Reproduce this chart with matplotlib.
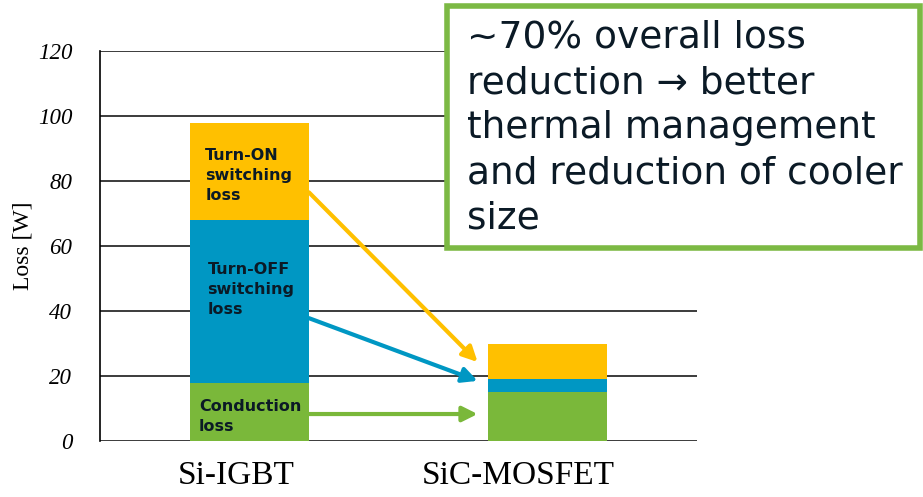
import matplotlib.pyplot as plt
from matplotlib.patches import Rectangle
from matplotlib.transforms import ScaledTranslation

# data
devices = ['Si-IGBT', 'SiC-MOSFET']
conduction = [18, 15]
turn_off = [50, 4]
turn_on = [30, 11]
yticks = [0, 20, 40, 60, 80, 100, 120]

yellow = '#FFC000'
blue = '#0097C3'
green = '#7AB83A'
ink = '#0B1A26'

fig = plt.figure(figsize=(9.23, 4.97), dpi=100)
ax = fig.add_axes([100/923, 56/497, 597/923, 390/497])

xs = [0, 1]
w = 0.4
bottom_off = conduction
bottom_on = [c + o for c, o in zip(conduction, turn_off)]
ax.bar(xs, conduction, w, color=green, zorder=3)
ax.bar(xs, turn_off, w, bottom=bottom_off, color=blue, zorder=3)
ax.bar(xs, turn_on, w, bottom=bottom_on, color=yellow, zorder=3)

ax.set_xlim(-0.5, 1.5)
ax.set_ylim(0, 120)
ax.set_yticks(yticks)
ax.set_yticklabels([str(t) for t in yticks], family='Liberation Serif',
                   style='italic', fontsize=16.5)
ax.set_xticks(xs)
ax.set_xticklabels(devices, family='Liberation Serif', fontsize=24)
ax.tick_params(axis='y', length=0, pad=20)
ax.tick_params(axis='x', length=0, pad=14)
# category labels sit a little left of the bar centres in the original
for lab, dx in zip(ax.get_xticklabels(), [-13, -29]):
    lab.set_transform(lab.get_transform() + ScaledTranslation(dx/100, 0, fig.dpi_scale_trans))
ax.set_ylabel('Loss [W]', family='Liberation Serif', fontsize=17, labelpad=3)
ax.grid(axis='y', color='#1a1a1a', linewidth=1.2, zorder=1)
for s in ['top', 'right', 'bottom']:
    ax.spines[s].set_visible(False)
ax.spines['left'].set_linewidth(1.2)

# labels inside the Si-IGBT bar
lbl = dict(fontsize=11.5, fontweight='bold', color=ink, ha='left', va='top',
           linespacing=1.42, zorder=4)
ax.text(-0.147, 90.2, 'Turn-ON\nswitching\nloss', **lbl)
ax.text(-0.14, 55.2, 'Turn-OFF\nswitching\nloss', **lbl)
ax.text(-0.168, 13.0, 'Conduction\nloss', **lbl)

# arrows towards the SiC bar
arrows = [(yellow, 76.5, 24.3), (blue, 37.8, 18.5), (green, 8.3, 8.3)]
for col, y0, y1 in arrows:
    ax.annotate('', xy=(0.765, y1), xytext=(0.2, y0),
                arrowprops=dict(arrowstyle='-|>,head_length=0.9,head_width=0.45',
                                color=col, lw=3, shrinkA=0, shrinkB=0),
                zorder=5)

# callout box
fig.patches.append(Rectangle((447/923, 1 - 248/497), 473/923, 242/497,
                             transform=fig.transFigure, facecolor='white',
                             edgecolor='#7CB944', linewidth=4, zorder=10))
fig.text(467/923, 1 - 20/497,
         '~70% overall loss\nreduction \u2192 better\nthermal management\n'
         'and reduction of cooler\nsize',
         fontsize=27, color=ink, ha='left', va='top', linespacing=1.33,
         zorder=11)

fig.savefig('out.png', dpi=100)
